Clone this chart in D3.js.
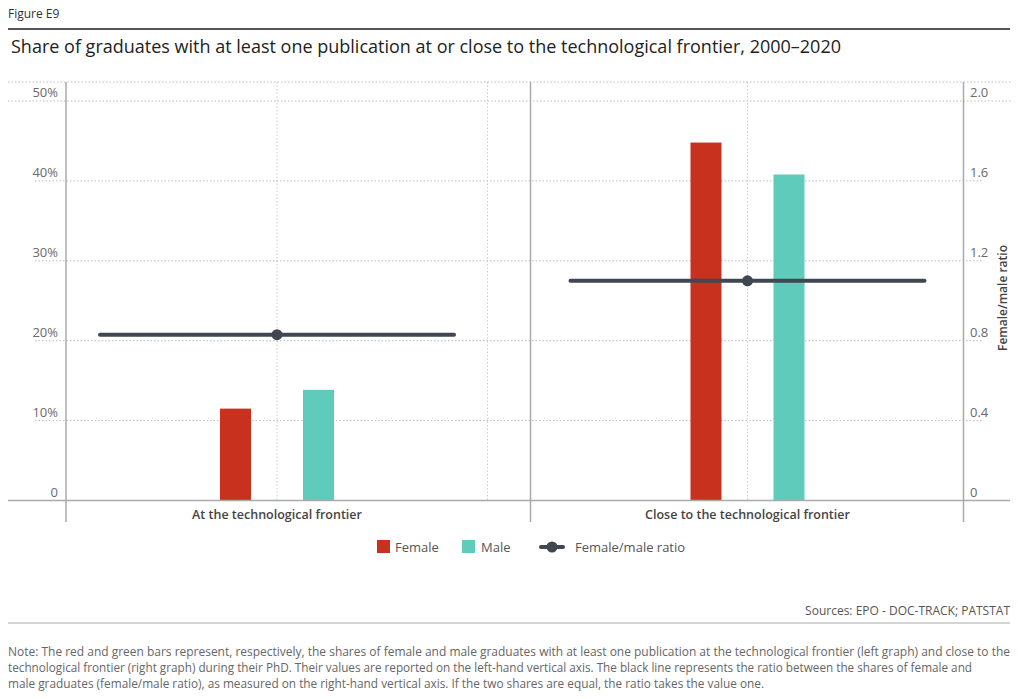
<!DOCTYPE html>
<html>
<head>
<meta charset="utf-8">
<script src="https://cdn.jsdelivr.net/npm/d3@7/dist/d3.min.js"></script>
<style>
  body { margin: 0; background: #fff; }
  text { font-family: "Open Sans", "Noto Sans", sans-serif; }
</style>
</head>
<body>
<div id="chart"></div>
<script>
// data
var categories = ["At the technological frontier", "Close to the technological frontier"];
var groups = ["Female", "Male"];
var femaleShare = [11.5, 44.8];
var maleShare = [13.85, 40.8];
var ratio = [0.83, 1.10];
var leftTicks = [0, 10, 20, 30, 40, 50];
var rightTicks = [0, 0.4, 0.8, 1.2, 1.6, 2.0];
var noteLines = [
  "Note: The red and green bars represent, respectively, the shares of female and male graduates with at least one publication at the technological frontier (left graph) and close to the",
  "technological frontier (right graph) during their PhD. Their values are reported on the left-hand vertical axis. The black line represents the ratio between the shares of female and",
  "male graduates (female/male ratio), as measured on the right-hand vertical axis. If the two shares are equal, the ratio takes the value one."
];

var width = 1018, height = 699;
var colors = { Female: "#c9311f", Male: "#5fcbbb" };
var lineColor = "#404652";

var svg = d3.select("#chart").append("svg")
  .attr("width", width)
  .attr("height", height);

var yL = d3.scaleLinear().domain([0, 50]).range([500.5, 101]);
var yR = d3.scaleLinear().domain([0, 2]).range([500.5, 101]);
var x = d3.scalePoint().domain(categories).range([277, 747.5]);
var xs = d3.scalePoint().domain(groups).range([-41.5, 41.5]);
var barW = 31;

// header
svg.append("text")
  .attr("x", 8).attr("y", 18)
  .style("font-size", "12px")
  .style("fill", "#333")
  .text("Figure E9");

svg.append("line")
  .attr("x1", 8).attr("x2", 1010)
  .attr("y1", 29).attr("y2", 29)
  .style("stroke", "#555").style("stroke-width", 2);

svg.append("text")
  .attr("x", 11).attr("y", 53)
  .style("font-size", "18px")
  .style("fill", "#222")
  .text("Share of graduates with at least one publication at or close to the technological frontier, 2000\u20132020");

// gridlines
svg.append("line")
  .attr("x1", 8).attr("x2", 1012)
  .attr("y1", 82).attr("y2", 82)
  .style("stroke", "#bbb").style("stroke-dasharray", "1.5,2");

svg.selectAll(".hgrid")
  .data(leftTicks.slice(1))
  .enter().append("line")
  .attr("class", "hgrid")
  .attr("x1", function(d) { return d == 50 ? 8 : 35; })
  .attr("x2", function(d) { return d == 50 ? 1012 : 983; })
  .attr("y1", function(d) { return yL(d); })
  .attr("y2", function(d) { return yL(d); })
  .style("stroke", "#bbb").style("stroke-dasharray", "1.5,2");

var vgrid = [x(categories[0]), 487.5, x(categories[1])];
svg.selectAll(".vgrid")
  .data(vgrid)
  .enter().append("line")
  .attr("class", "vgrid")
  .attr("x1", function(d) { return d; })
  .attr("x2", function(d) { return d; })
  .attr("y1", 82).attr("y2", 500)
  .style("stroke", "#ccc").style("stroke-dasharray", "1.5,2");

// left tick labels
svg.selectAll(".lt")
  .data(leftTicks)
  .enter().append("text")
  .attr("class", "lt")
  .attr("x", 58)
  .attr("y", function(d) { return yL(d) - 4; })
  .attr("text-anchor", "end")
  .style("font-size", "13px")
  .style("fill", "#6a6a6a")
  .text(function(d) { return d == 0 ? "0" : d + "%"; });

// right tick labels
svg.selectAll(".rt")
  .data(rightTicks)
  .enter().append("text")
  .attr("class", "rt")
  .attr("x", 970)
  .attr("y", function(d) { return yR(d) - 4; })
  .style("font-size", "13px")
  .style("fill", "#6a6a6a")
  .text(function(d) { return d == 0 ? "0" : d3.format(".1f")(d); });

svg.append("text")
  .attr("transform", "translate(1007,298) rotate(-90)")
  .attr("text-anchor", "middle")
  .style("font-size", "12px")
  .style("font-weight", "600")
  .style("fill", "#444")
  .text("Female/male ratio");

// bars
var barData = [];
categories.forEach(function(c, i) {
  barData.push({ cat: c, g: "Female", v: femaleShare[i] });
  barData.push({ cat: c, g: "Male", v: maleShare[i] });
});

svg.selectAll(".bar")
  .data(barData)
  .enter().append("rect")
  .attr("class", "bar")
  .attr("x", function(d) { return x(d.cat) + xs(d.g) - barW / 2; })
  .attr("y", function(d) { return yL(d.v); })
  .attr("width", barW)
  .attr("height", function(d) { return yL(0) - yL(d.v); })
  .style("fill", function(d) { return colors[d.g]; });

// axes lines
svg.append("line")
  .attr("x1", 8).attr("x2", 1010)
  .attr("y1", 500.5).attr("y2", 500.5)
  .style("stroke", "#aaa").style("stroke-width", 1.5);

[66, 530.5, 963.5].forEach(function(px) {
  svg.append("line")
    .attr("x1", px).attr("x2", px)
    .attr("y1", 82).attr("y2", 522)
    .style("stroke", "#aaa").style("stroke-width", 1.5);
});

// ratio line
svg.selectAll(".rline")
  .data(ratio)
  .enter().append("line")
  .attr("class", "rline")
  .attr("x1", function(d, i) { return x(categories[i]) - 177; })
  .attr("x2", function(d, i) { return x(categories[i]) + 177; })
  .attr("y1", function(d) { return yR(d); })
  .attr("y2", function(d) { return yR(d); })
  .style("stroke", lineColor)
  .style("stroke-width", 4)
  .style("stroke-linecap", "round");

svg.selectAll(".rdot")
  .data(ratio)
  .enter().append("circle")
  .attr("class", "rdot")
  .attr("cx", function(d, i) { return x(categories[i]); })
  .attr("cy", function(d) { return yR(d); })
  .attr("r", 5.5)
  .style("fill", lineColor);

// category labels
svg.selectAll(".cat")
  .data(categories)
  .enter().append("text")
  .attr("class", "cat")
  .attr("x", function(d) { return x(d); })
  .attr("y", 519)
  .attr("text-anchor", "middle")
  .style("font-size", "12.5px")
  .style("font-weight", "600")
  .style("fill", "#444")
  .text(function(d) { return d; });

// legend
var legend = svg.append("g");
legend.append("rect").attr("x", 377).attr("y", 540).attr("width", 13).attr("height", 13).style("fill", colors.Female);
legend.append("text").attr("x", 395).attr("y", 552).style("font-size", "13px").style("fill", "#555").text("Female");
legend.append("rect").attr("x", 462).attr("y", 540).attr("width", 13).attr("height", 13).style("fill", colors.Male);
legend.append("text").attr("x", 481).attr("y", 552).style("font-size", "13px").style("fill", "#555").text("Male");
legend.append("line").attr("x1", 541).attr("x2", 563).attr("y1", 547).attr("y2", 547)
  .style("stroke", lineColor).style("stroke-width", 4).style("stroke-linecap", "round");
legend.append("circle").attr("cx", 552).attr("cy", 547).attr("r", 5.5).style("fill", lineColor);
legend.append("text").attr("x", 575).attr("y", 552).style("font-size", "13px").style("fill", "#555").text("Female/male ratio");

// source + notes
svg.append("text")
  .attr("x", 1010).attr("y", 615)
  .attr("text-anchor", "end")
  .style("font-size", "12px")
  .style("fill", "#555")
  .text("Sources: EPO - DOC-TRACK; PATSTAT");

svg.append("line")
  .attr("x1", 8).attr("x2", 1010)
  .attr("y1", 623).attr("y2", 623)
  .style("stroke", "#aaa").style("stroke-width", 1);

var noteWidths = [1002, 964, 756];
svg.selectAll(".note")
  .data(noteLines)
  .enter().append("text")
  .attr("class", "note")
  .attr("x", 8)
  .attr("y", function(d, i) { return 656 + i * 16; })
  .attr("textLength", function(d, i) { return noteWidths[i]; })
  .attr("lengthAdjust", "spacingAndGlyphs")
  .style("font-size", "12px")
  .style("fill", "#666")
  .text(function(d) { return d; });
</script>
</body>
</html>
